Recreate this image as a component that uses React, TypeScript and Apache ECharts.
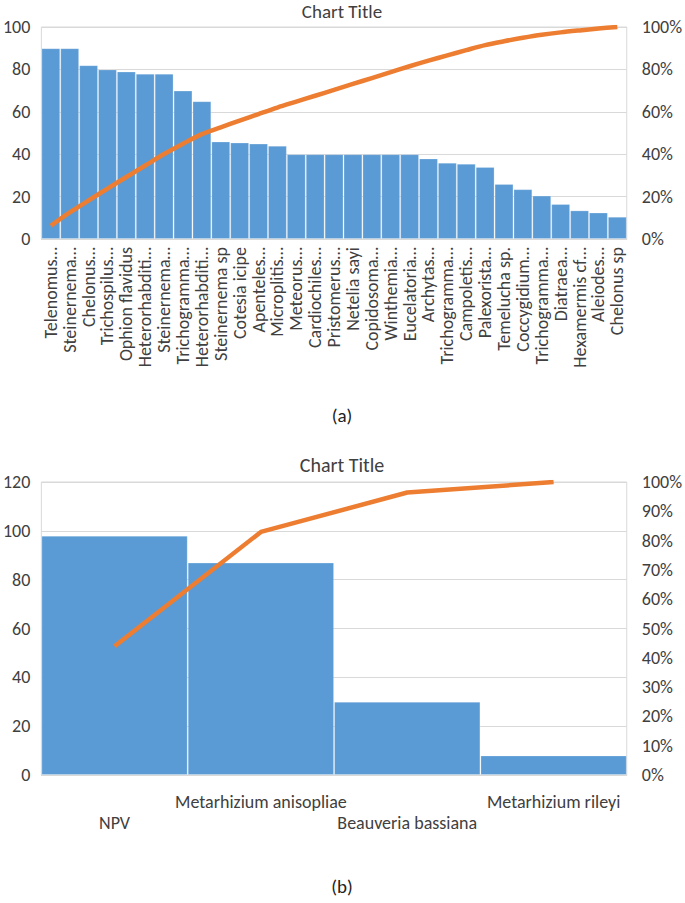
import React, { useEffect, useRef } from "react";
import * as echarts from "echarts";

const speciesA = [
  "Telenomus…", "Steinernema…", "Chelonus…", "Trichospilus…", "Ophion flavidus",
  "Heterorhabditi…", "Steinernema…", "Trichogramma…", "Heterorhabditi…", "Steinernema sp",
  "Cotesia icipe", "Apenteles…", "Microplitis…", "Meteorus…", "Cardiochiles…",
  "Pristomerus…", "Netelia sayi", "Copidosoma…", "Winthemia…", "Eucelatoria…",
  "Archytas…", "Trichogramma…", "Campoletis…", "Palexorista…", "Temelucha sp.",
  "Coccygidium…", "Trichogramma…", "Diatraea…", "Hexamermis cf…", "Aleiodes…",
  "Chelonus sp",
];
const countsA = [
  90, 90, 82, 80, 79, 78, 78, 70, 65, 46, 45.5, 45, 44, 40, 40, 40, 40, 40, 40, 40,
  38, 36, 35.5, 34, 26, 23.5, 20.5, 16.5, 13.5, 12.5, 10.5,
];
const agentsB = ["NPV", "Metarhizium anisopliae", "Beauveria bassiana", "Metarhizium rileyi"];
const countsB = [98, 87, 30, 8];

const leftTicksA = { min: 0, max: 100, interval: 20 };
const rightTicksA = { min: 0, max: 100, interval: 20 };
const leftTicksB = { min: 0, max: 120, interval: 20 };
const rightTicksB = { min: 0, max: 100, interval: 10 };

const chartTitle = "Chart Title";
const captionA = "(a)";
const captionB = "(b)";

function cumulativePct(vals: number[]) {
  const total = vals.reduce((a, b) => a + b, 0);
  let run = 0;
  return vals.map((v) => {
    run += v;
    return +((run / total) * 100).toFixed(2);
  });
}

const FONT = "Carlito, Lato, sans-serif";
const TXT = "#404040";
const GRID = "#d9d9d9";
const BAR = "#5b9bd5";
const LINE = "#ed7d31";

export default function App() {
  const ref = useRef<HTMLDivElement>(null);
  useEffect(() => {
    if (!ref.current) return;
    const chart = echarts.init(ref.current, undefined, { renderer: "svg" });
    const labelBase = { color: TXT, fontSize: 18, fontFamily: FONT };
    const valAxis = (grid: number, ticks: any, pos: string, pct: boolean, split: boolean) => ({
      type: "value",
      gridIndex: grid,
      position: pos,
      min: ticks.min,
      max: ticks.max,
      interval: ticks.interval,
      axisLine: { show: false },
      axisTick: { show: false },
      splitLine: { show: split, lineStyle: { color: GRID, width: 1 } },
      axisLabel: {
        ...labelBase,
        margin: pos === "left" ? 11 : 15,
        formatter: pct ? "{value}%" : "{value}",
      },
    });
    const option: any = {
      animation: false,
      backgroundColor: "#ffffff",
      textStyle: { fontFamily: FONT },
      grid: [
        { left: 39, right: 55, top: 27, height: 212, show: true, borderColor: GRID, borderWidth: 1 },
        { left: 40, right: 55, top: 482, height: 293, show: true, borderColor: GRID, borderWidth: 1 },
      ],
      xAxis: [
        {
          type: "category",
          gridIndex: 0,
          data: speciesA,
          axisTick: { show: false },
          axisLine: { lineStyle: { color: GRID } },
          axisLabel: { ...labelBase, interval: 0, rotate: 90, margin: 8 },
        },
        {
          type: "category",
          gridIndex: 1,
          data: agentsB,
          axisTick: { show: false },
          axisLine: { lineStyle: { color: GRID } },
          axisLabel: {
            ...labelBase,
            interval: 0,
            margin: 16,
            lineHeight: 21,
            formatter: (v: string, i: number) => (i % 2 === 0 ? "\n" + v : v),
          },
        },
      ],
      yAxis: [
        valAxis(0, leftTicksA, "left", false, true),
        valAxis(0, rightTicksA, "right", true, false),
        valAxis(1, leftTicksB, "left", false, true),
        valAxis(1, rightTicksB, "right", true, false),
      ],
      series: [
        {
          type: "bar",
          xAxisIndex: 0,
          yAxisIndex: 0,
          data: countsA,
          barWidth: "100%",
          barCategoryGap: "0%",
          itemStyle: { color: BAR, borderColor: "rgba(255,255,255,0.22)", borderWidth: 1 },
        },
        {
          type: "line",
          xAxisIndex: 0,
          yAxisIndex: 1,
          data: cumulativePct(countsA),
          smooth: 0.3,
          symbol: "none",
          lineStyle: { color: LINE, width: 4.5 },
        },
        {
          type: "bar",
          xAxisIndex: 1,
          yAxisIndex: 2,
          data: countsB,
          barWidth: "100%",
          barCategoryGap: "0%",
          itemStyle: { color: BAR, borderColor: "rgba(255,255,255,0.22)", borderWidth: 1 },
        },
        {
          type: "line",
          xAxisIndex: 1,
          yAxisIndex: 3,
          data: cumulativePct(countsB),
          symbol: "none",
          lineStyle: { color: LINE, width: 4.5 },
        },
      ],
      graphic: [
        { type: "text", x: 342, y: 2, style: { text: chartTitle, fill: TXT, font: `19px ${FONT}`, textAlign: "center", textVerticalAlign: "top" } },
        { type: "text", x: 342, y: 415, style: { text: captionA, fill: "#222", font: `19px ${FONT}`, textAlign: "center", textVerticalAlign: "middle" } },
        { type: "text", x: 342, y: 465, style: { text: chartTitle, fill: TXT, font: `20px ${FONT}`, textAlign: "center", textVerticalAlign: "middle" } },
        { type: "text", x: 342, y: 886, style: { text: captionB, fill: "#222", font: `19px ${FONT}`, textAlign: "center", textVerticalAlign: "middle" } },
      ],
    };
    chart.setOption(option);
    return () => chart.dispose();
  }, []);
  return (
    <div
      ref={ref}
      style={{ position: "fixed", left: 0, top: 0, width: 685, height: 903 }}
    />
  );
}
